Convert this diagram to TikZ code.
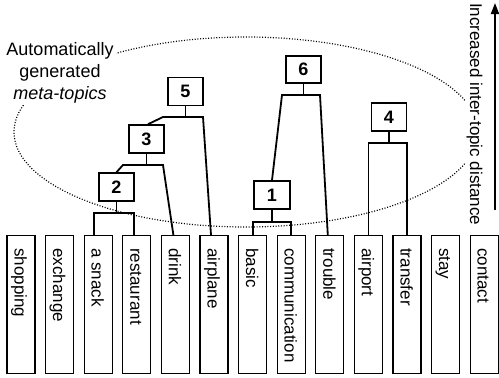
\documentclass[tikz,border=0pt]{standalone}
\usepackage{fontspec}
\setmainfont{Liberation Sans}
\usetikzlibrary{arrows.meta}
\begin{document}
\begin{tikzpicture}[x=1pt,y=-1pt,
  leaf/.style={draw, line width=1.2pt, minimum width=28pt, minimum height=138pt, anchor=north, inner sep=0pt},
  leaftext/.style={rotate=-90, anchor=base west, inner sep=0pt, font=\fontsize{17}{20}\selectfont},
  numbox/.style={draw, fill=white, line width=1.6pt, minimum width=35pt, minimum height=28pt, inner sep=0pt, font=\bfseries\fontsize{18}{20}\selectfont},
  link/.style={line width=1.8pt, line join=miter},
  dots/.style={line width=1.2pt, dash pattern=on 1pt off 1.7pt}]
\useasboundingbox (0,0) rectangle (499,378);
\fill[white] (0,0) rectangle (499,378);

% dotted ellipse
\draw[dots] (246,132) ellipse [x radius=232pt, y radius=95pt];

% label
\node[align=center, fill=white, inner sep=2pt, font=\fontsize{18}{22}\selectfont] (lab) at (60,73)
  {Automatically\\generated\\\textit{meta-topics}};

% axis text and arrow
\node[rotate=-90, anchor=base west, fill=white, inner sep=1pt, font=\fontsize{17}{20}\selectfont] (axis) at (470,2) {Increased inter-topic distance};
\coordinate (abot) at (495,210);
\coordinate (atop) at (495,3);
\draw[line width=1.8pt, -{Triangle[length=11pt,width=8pt]}] (abot) -- (atop);

% leaves
\foreach \name/\txt [count=\i from 0] in {shop/shopping, exch/exchange, snack/a snack, rest/restaurant, drink/drink, airpl/airplane, basic/basic, comm/communication, troub/trouble, airpo/airport, trans/transfer, stay/stay, cont/contact} {
  \node[leaf] (\name) at (21+38.6*\i, 235) {};
  \node[leaftext] (\name t) at (21+38.6*\i-6.5, 248) {\txt};
}

% number boxes
\node[numbox] (n5) at (185.5,91.5) {5};
\node[numbox] (n3) at (146.5,139) {3};
\node[numbox] (n2) at (116.5,187) {2};
\node[numbox, minimum height=27pt] (n6) at (303.5,69.5) {6};
\node[numbox] (n4) at (389,117) {4};
\node[numbox, minimum width=36pt] (n1) at (272,195) {1};

% junctions
\coordinate (j2) at (116.5,213);
\coordinate (j3l) at (123,165);
\coordinate (j3r) at (163,165);
\coordinate (j5l) at (163,117);
\coordinate (j5r) at (203,117);
\coordinate (j6l) at (282,95);
\coordinate (j6r) at (320,95);
\coordinate (j4) at (389,143);
\coordinate (j1) at (272,222);

% links
\draw[link] (n2.south) -- (j2);
\draw[link] ([xshift=-4pt]snack.north) |- (j2) -| ([xshift=-3pt]rest.north);

\draw[link] (n3.south) -- (n3.south |- j3l);
\draw[link] (n2.north) -- (j3l) -- (j3r) -- ([xshift=-2pt]drink.north);

\draw[link] (n5.south) -- (n5.south |- j5l);
\draw[link] ([xshift=1.5pt]n3.north) -- (j5l) -- (j5r) -- ([xshift=-3pt]airpl.north);

\draw[link] (n6.south) -- (n6.south |- j6l);
\draw[link] (n1.north) -- (j6l) -- (j6r) -- ([xshift=-2pt]troub.north);

\draw[link] (n4.south) -- (j4);
\draw[link] (airpo.north) |- (j4) -| (trans.north);

\draw[link] (n1.south) -- (j1);
\draw[link] (basic.north) |- (j1) -| (comm.north);

% redraw number boxes on top
\node[numbox] at (n5) {5};
\node[numbox] at (n3) {3};
\node[numbox] at (n2) {2};
\node[numbox, minimum height=27pt] at (n6) {6};
\node[numbox] at (n4) {4};
\node[numbox, minimum width=36pt] at (n1) {1};
\end{tikzpicture}
\end{document}
